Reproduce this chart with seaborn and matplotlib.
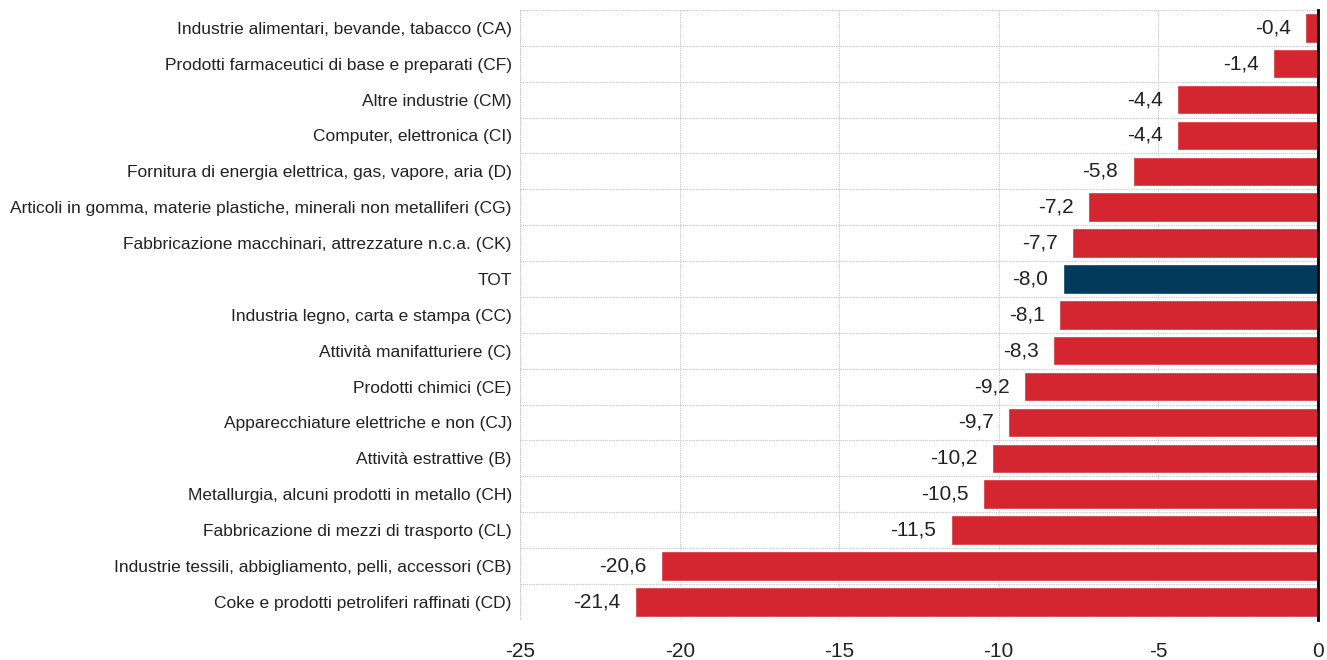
import matplotlib
matplotlib.use("Agg")
import matplotlib.pyplot as plt
import seaborn as sns
import pandas as pd
import numpy as np
from matplotlib import font_manager

categories = [
    "Industrie alimentari, bevande, tabacco (CA)",
    "Prodotti farmaceutici di base e preparati (CF)",
    "Altre industrie (CM)",
    "Computer, elettronica (CI)",
    "Fornitura di energia elettrica, gas, vapore, aria (D)",
    "Articoli in gomma, materie plastiche, minerali non metalliferi (CG)",
    "Fabbricazione macchinari, attrezzature n.c.a. (CK)",
    "TOT",
    "Industria legno, carta e stampa (CC)",
    "Attività manifatturiere (C)",
    "Prodotti chimici (CE)",
    "Apparecchiature elettriche e non (CJ)",
    "Attività estrattive (B)",
    "Metallurgia, alcuni prodotti in metallo (CH)",
    "Fabbricazione di mezzi di trasporto (CL)",
    "Industrie tessili, abbigliamento, pelli, accessori (CB)",
    "Coke e prodotti petroliferi raffinati (CD)",
]
values = [-0.4, -1.4, -4.4, -4.4, -5.8, -7.2, -7.7, -8.0, -8.1, -8.3,
          -9.2, -9.7, -10.2, -10.5, -11.5, -20.6, -21.4]
x_ticks = [-25, -20, -15, -10, -5, 0]

RED = "#D42630"
NAVY = "#003A5C"
GRID = "#C4C4C4"

sns.set_style("white")
names = {f.name for f in font_manager.fontManager.ttflist}
fam = ["Liberation Sans Narrow", "DejaVu Sans"] if "Liberation Sans Narrow" in names else ["Liberation Sans", "DejaVu Sans"]
plt.rcParams["font.family"] = fam

df = pd.DataFrame({"cat": categories, "val": values})
df["grp"] = ["tot" if c == "TOT" else "other" for c in categories]

fig = plt.figure(figsize=(13.27, 6.6), dpi=100)
ax = fig.add_axes([0.392, 0.061, 0.601, 0.924])

sns.barplot(data=df, y="cat", x="val", hue="grp", orient="h",
            palette={"other": RED, "tot": NAVY}, dodge=False,
            width=0.82, legend=False, ax=ax, saturation=1)

ax.set_xlim(-25, 0)
ax.set_ylim(len(categories) - 0.5, -0.5)
ax.set_xticks(x_ticks)
ax.set_xticklabels([str(t) for t in x_ticks], fontsize=15, color="#222222")
ax.tick_params(axis="x", length=0, pad=16)
ax.tick_params(axis="y", length=0, pad=6, labelsize=12.5, labelcolor="#222222")
ax.set_xlabel("")
ax.set_ylabel("")

# grid
ax.set_yticks(np.arange(-0.5, len(categories), 1), minor=True)
ax.grid(True, axis="x", which="major", color=GRID, linestyle=(0, (1, 1)), linewidth=0.8)
ax.grid(True, axis="y", which="minor", color=GRID, linestyle=(0, (1, 1)), linewidth=0.8)
ax.tick_params(axis="y", which="minor", length=0)
ax.set_axisbelow(True)

for s in ["top", "bottom", "left"]:
    ax.spines[s].set_visible(False)
ax.spines["right"].set_visible(True)
ax.spines["right"].set_color("black")
ax.spines["right"].set_linewidth(2)
ax.axvline(-25, color=GRID, linestyle=(0, (1, 1)), linewidth=0.8, zorder=0)

for i, v in enumerate(values):
    ax.text(v - 0.45, i, f"{v:.1f}".replace(".", ","), ha="right", va="center",
            fontsize=15, color="#222222")

fig.savefig("out.png", dpi=100)
